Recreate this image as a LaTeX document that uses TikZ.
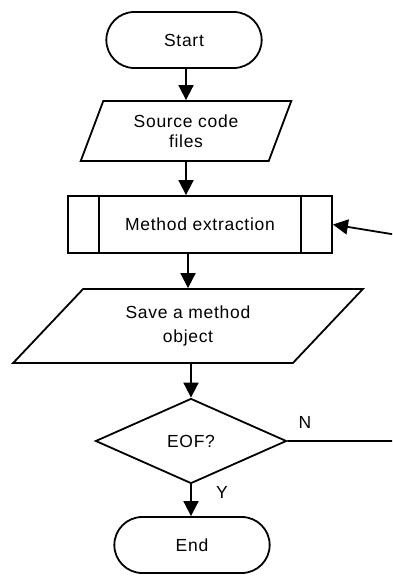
\documentclass[tikz,border=0pt]{standalone}
\usepackage{fontspec}
\setmainfont[LetterSpace=4]{Liberation Sans}
\usetikzlibrary{arrows.meta,shapes.geometric,shapes.misc}
\definecolor{LineClr}{rgb}{0,0,0}

\begin{document}
\begin{tikzpicture}[x=1pt,y=-1pt,line width=1.8pt,color=LineClr,
  every node/.style={font=\fontsize{17.5}{20}\selectfont},
  terminal/.style={draw,rounded rectangle,minimum width=162pt,minimum height=56pt},
  io/.style={draw,trapezium,trapezium stretches=true,align=center},
  proc/.style={draw,rectangle,minimum width=264pt,minimum height=57pt},
  test/.style={draw,diamond,minimum width=191pt,minimum height=85pt,inner sep=0pt},
  flow/.style={-{Triangle[length=15pt,width=15pt]}}]
\clip (0,0) rectangle (392,576);

\node[terminal] (start) at (184,40) {Start};
\node[io,trapezium left angle=69,trapezium right angle=111,
      minimum width=211pt,minimum height=60pt] (src) at (186,131) {Source code\\files};
\node[proc] (method) at (200,224.5) {Method extraction};
\node[io,trapezium left angle=47,trapezium right angle=133,
      minimum width=350pt,minimum height=74pt] (save) at (188,326) {Save a method\\[4pt]object};
\node[test] (eof) at (191,441) {EOF?};
\node[terminal] (end) at (192,545) {End};

\draw ([xshift=32pt]method.north west) -- ([xshift=32pt]method.south west);
\draw ([xshift=-32pt]method.north east) -- ([xshift=-32pt]method.south east);

\coordinate (loopB) at (422,441);
\coordinate (loopT) at (422,239);

\draw[flow] (start.south -| src.north) -- (src.north);
\draw[flow] (src.south) -- (src.south |- method.north);
\draw[flow] (method.south -| save.north) -- (save.north);
\draw[flow] (save.south -| eof.north) -- (eof.north);
\draw[flow] (eof.south) -- (eof.south |- end.north);
\draw[flow] (eof.east) -- (loopB) -- (loopT) -- (method.east);

\node (labelN) at (305,422) {N};
\node (labelY) at (222,492) {Y};

\end{tikzpicture}
\end{document}
